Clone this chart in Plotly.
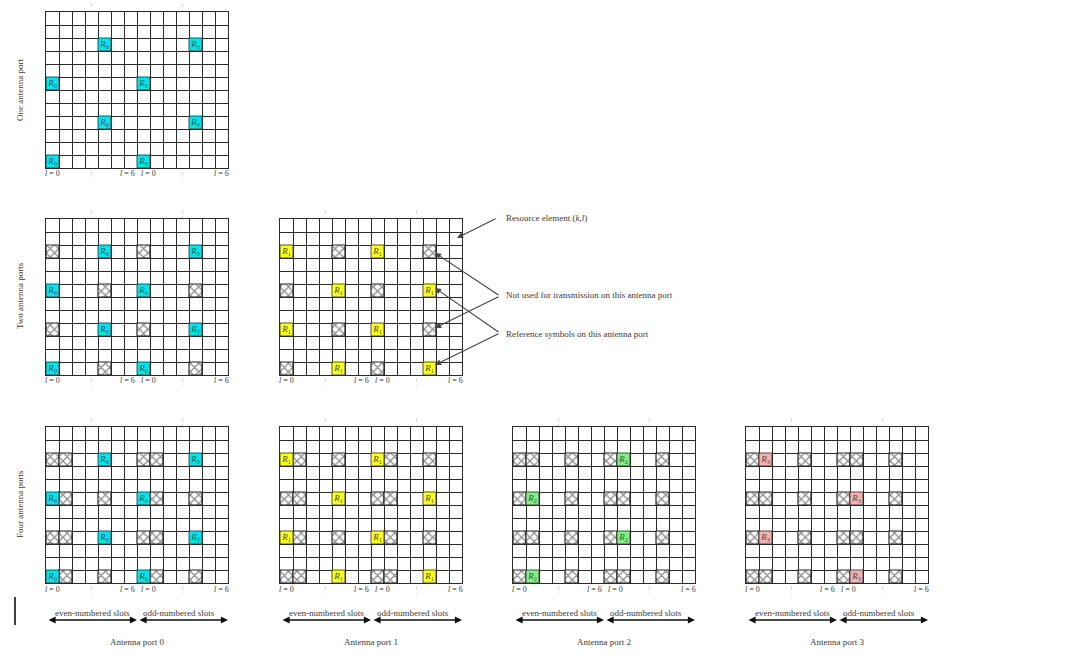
import plotly.graph_objects as go

W, H = 1070, 654

# Data: resource element positions as column / row lists (row 0 = bottom row)
one_p0_ref_cols = [4, 11, 0, 7, 4, 11, 0, 7]
one_p0_ref_rows = [9, 9, 6, 6, 3, 3, 0, 0]

two_p0_ref_cols = [4, 11, 0, 7, 4, 11, 0, 7]
two_p0_ref_rows = [9, 9, 6, 6, 3, 3, 0, 0]
two_p0_hat_cols = [0, 7, 4, 11, 0, 7, 4, 11]
two_p0_hat_rows = [9, 9, 6, 6, 3, 3, 0, 0]

two_p1_ref_cols = [0, 7, 4, 11, 0, 7, 4, 11]
two_p1_ref_rows = [9, 9, 6, 6, 3, 3, 0, 0]
two_p1_hat_cols = [4, 11, 0, 7, 4, 11, 0, 7]
two_p1_hat_rows = [9, 9, 6, 6, 3, 3, 0, 0]

four_p0_ref_cols = [4, 11, 0, 7, 4, 11, 0, 7]
four_p0_ref_rows = [9, 9, 6, 6, 3, 3, 0, 0]
four_p0_hat_cols = [0, 1, 7, 8, 1, 4, 8, 11, 0, 1, 7, 8, 1, 4, 8, 11]
four_p0_hat_rows = [9, 9, 9, 9, 6, 6, 6, 6, 3, 3, 3, 3, 0, 0, 0, 0]

four_p1_ref_cols = [0, 7, 4, 11, 0, 7, 4, 11]
four_p1_ref_rows = [9, 9, 6, 6, 3, 3, 0, 0]
four_p1_hat_cols = [1, 4, 8, 11, 0, 1, 7, 8, 1, 4, 8, 11, 0, 1, 7, 8]
four_p1_hat_rows = [9, 9, 9, 9, 6, 6, 6, 6, 3, 3, 3, 3, 0, 0, 0, 0]

four_p2_ref_cols = [8, 1, 8, 1]
four_p2_ref_rows = [9, 6, 3, 0]
four_p2_hat_cols = [0, 1, 4, 7, 11, 0, 4, 7, 8, 11, 0, 1, 4, 7, 11, 0, 4, 7, 8, 11]
four_p2_hat_rows = [9, 9, 9, 9, 9, 6, 6, 6, 6, 6, 3, 3, 3, 3, 3, 0, 0, 0, 0, 0]

four_p3_ref_cols = [1, 8, 1, 8]
four_p3_ref_rows = [9, 6, 3, 0]
four_p3_hat_cols = [0, 4, 7, 8, 11, 0, 1, 4, 7, 11, 0, 4, 7, 8, 11, 0, 1, 4, 7, 11]
four_p3_hat_rows = [9, 9, 9, 9, 9, 6, 6, 6, 6, 6, 3, 3, 3, 3, 3, 0, 0, 0, 0, 0]

symbol_tick_vals = [0.5, 6.3, 7.85, 13.5]
symbol_tick_text = ["<i>l</i> = 0", "<i>l</i> = 6", "<i>l</i> = 0", "<i>l</i> = 6"]
port_titles = ["Antenna port 0", "Antenna port 1", "Antenna port 2", "Antenna port 3"]
row_titles = ["One antenna port", "Two antenna ports", "Four antenna ports"]
slot_titles = ["even-numbered slots", "odd-numbered slots"]

CYAN, YELLOW, GREEN, PINK = "#00E6EE", "#FFFF1A", "#80F080", "#F6B0B0"
FONT = "Liberation Serif"
TXT = "#3a3a3a"
GRID = "#2a2a2a"
LW = 1.2

# panel: left px, top px, ref cols, ref rows, hatch cols, hatch rows, colour, subscript
panels = [
    (46, 12, one_p0_ref_cols, one_p0_ref_rows, [], [], CYAN, 0),
    (46, 219, two_p0_ref_cols, two_p0_ref_rows, two_p0_hat_cols, two_p0_hat_rows, CYAN, 0),
    (280, 219, two_p1_ref_cols, two_p1_ref_rows, two_p1_hat_cols, two_p1_hat_rows, YELLOW, 1),
    (46, 427, four_p0_ref_cols, four_p0_ref_rows, four_p0_hat_cols, four_p0_hat_rows, CYAN, 0),
    (280, 427, four_p1_ref_cols, four_p1_ref_rows, four_p1_hat_cols, four_p1_hat_rows, YELLOW, 1),
    (513, 427, four_p2_ref_cols, four_p2_ref_rows, four_p2_hat_cols, four_p2_hat_rows, GREEN, 2),
    (746, 427, four_p3_ref_cols, four_p3_ref_rows, four_p3_hat_cols, four_p3_hat_rows, PINK, 3),
]
PW, PH = 182, 156


def px(x):
    return x / W


def py(y):
    return 1 - y / H


def label(x, y, text, size=9, xanchor="center", angle=0):
    return dict(x=px(x), y=py(y), xref="paper", yref="paper", text=text, showarrow=False,
                xanchor=xanchor, yanchor="middle", textangle=angle,
                font=dict(family=FONT, size=size, color=TXT))


fig = go.Figure()
layout = dict(
    width=W, height=H, margin=dict(l=0, r=0, t=0, b=0),
    paper_bgcolor="white", plot_bgcolor="white",
    barmode="overlay", showlegend=False, hovermode=False,
    font=dict(family=FONT, size=9, color=TXT),
)
shapes = []
annotations = []

for i, (left, top, rc, rr, hc, hr, colour, sub) in enumerate(panels):
    n = "" if i == 0 else str(i + 1)
    xa, ya = "x" + n, "y" + n
    layout["xaxis" + n] = dict(
        domain=[px(left), px(left + PW)], range=[0, 14], anchor=ya,
        tickmode="array", tickvals=list(range(15)), ticktext=[""] * 15, ticks="",
        showgrid=True, gridcolor=GRID, gridwidth=LW, zeroline=False,
        showline=True, linecolor=GRID, linewidth=LW, mirror=True, layer="above traces",
    )
    layout["yaxis" + n] = dict(
        domain=[py(top + PH), py(top)], range=[0, 12], anchor=xa,
        tickmode="array", tickvals=list(range(13)), ticktext=[""] * 13, ticks="",
        showgrid=True, gridcolor=GRID, gridwidth=LW, zeroline=False,
        showline=True, linecolor=GRID, linewidth=LW, mirror=True, layer="above traces",
    )
    if hc:
        fig.add_trace(go.Bar(
            x=[c + 0.5 for c in hc], y=[1] * len(hc), base=hr, width=1,
            marker=dict(color="white", line=dict(color=GRID, width=LW),
                        pattern=dict(shape="x", size=6, solidity=0.4,
                                     fgcolor="#222222", bgcolor="white")),
            xaxis=xa, yaxis=ya, hoverinfo="skip",
        ))
    fig.add_trace(go.Bar(
        x=[c + 0.5 for c in rc], y=[1] * len(rc), base=rr, width=1,
        marker=dict(color=colour, line=dict(color=GRID, width=0.8)),
        xaxis=xa, yaxis=ya, hoverinfo="skip",
    ))
    fig.add_trace(go.Scatter(
        x=[c + 0.5 for c in rc], y=[r + 0.5 for r in rr], mode="text",
        text=[f"<i>R</i><sub>{sub}</sub>"] * len(rc),
        textfont=dict(family=FONT, size=9, color="#335050"),
        xaxis=xa, yaxis=ya, hoverinfo="skip",
    ))
    # symbol index labels under the grid
    for v, t in zip(symbol_tick_vals, symbol_tick_text):
        annotations.append(dict(
            x=v, xref=xa, y=py(top + PH + 6), yref="paper", text=t, showarrow=False,
            xanchor="center", yanchor="middle", font=dict(family=FONT, size=8, color=TXT),
        ))
    # faint slot dots above and below the grid
    for c in (3.5, 10.5):
        for a, b in ((top - 8, top - 1), (top + PH + 4, top + PH + 11)):
            shapes.append(dict(type="line", xref=xa, x0=c, x1=c, yref="paper",
                               y0=py(max(a, 0)), y1=py(max(b, 0)),
                               line=dict(color="#d8d8d8", width=1, dash="dot")))

# row titles
for title, cy in zip(row_titles, (90, 296, 504)):
    annotations.append(label(20, cy, title, angle=-90))

# slot arrows and port captions
for title, left in zip(port_titles, (46, 280, 513, 746)):
    annotations.append(label(left + 91, 642, title))
    annotations.append(label(left + 46, 613, slot_titles[0]))
    annotations.append(label(left + 133, 613, slot_titles[1]))
    for a, b in ((left + 1, left + 91), (left + 92, left + 182)):
        annotations.append(dict(
            x=px(b), y=py(620), xref="paper", yref="paper", text="", showarrow=True,
            ax=a - b, ay=0, arrowside="end+start", arrowhead=2, arrowsize=1.1,
            arrowwidth=1.3, arrowcolor="#111111",
        ))

# callouts
callouts = [
    ("Resource element (<i>k</i>,<i>l</i>)", 504, 218),
    ("Not used for transmission on this antenna port", 504, 295),
    ("Reference symbols on this antenna port", 504, 334),
]
for text, x, y in callouts:
    annotations.append(label(x, y, text, xanchor="left"))
arrow_lines = [
    (497, 218, 457, 238), (500, 296, 435, 253), (500, 296, 435, 328),
    (500, 333, 435, 288), (500, 333, 435, 365),
]
for x0, y0, x1, y1 in arrow_lines:
    annotations.append(dict(
        x=px(x1), y=py(y1), xref="paper", yref="paper", text="", showarrow=True,
        ax=x0 - x1, ay=y0 - y1, arrowhead=2, arrowsize=1.1, arrowwidth=1.1, arrowcolor="#444444",
    ))

# stray black bar at lower left
shapes.append(dict(type="line", xref="paper", yref="paper", x0=px(15), x1=px(15),
                   y0=py(597), y1=py(625), line=dict(color="black", width=1.5)))

layout["shapes"] = shapes
layout["annotations"] = annotations
fig.update_layout(**layout)
fig.write_html("out.html", config={"displayModeBar": False},
               post_script="document.body.style.margin='0';")
